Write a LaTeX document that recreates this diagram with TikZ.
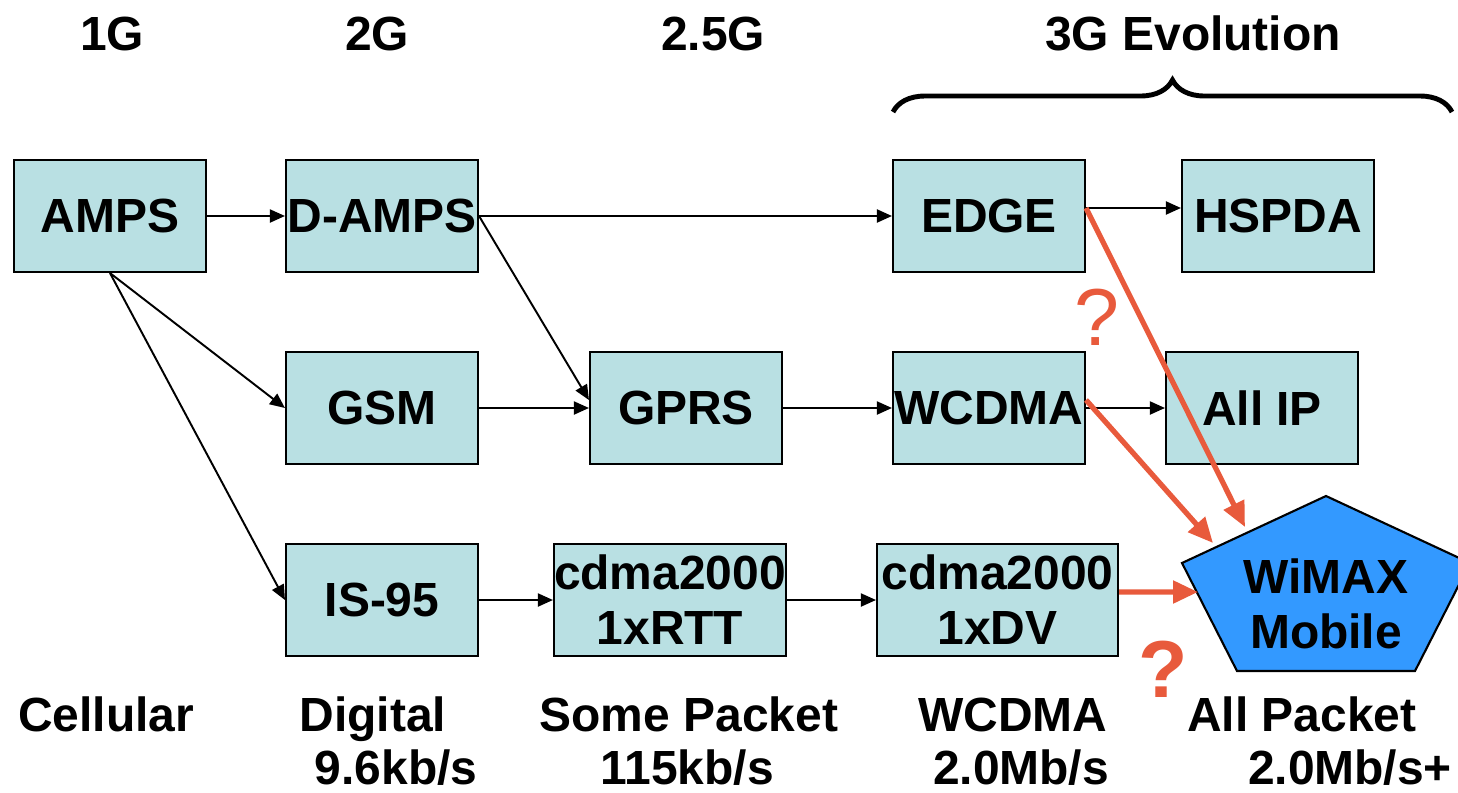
\documentclass[tikz,border=0pt]{standalone}
\usepackage{fontspec}
\setmainfont{Liberation Sans}
\usetikzlibrary{arrows.meta,decorations.pathreplacing}
\definecolor{boxcyan}{RGB}{185,224,227}
\definecolor{wimaxblue}{RGB}{51,153,255}
\definecolor{qorange}{RGB}{232,90,60}
\begin{document}
\begin{tikzpicture}[x=0.02cm,y=-0.02cm,
        big/.style={font=\fontsize{27.3}{31.3}\selectfont\bfseries},
        tech/.style={big,draw,line width=1.2pt,fill=boxcyan,minimum width=3.84cm,minimum height=2.24cm,inner sep=0pt,align=center},
        upgrade/.style={line width=1.1pt,-{Triangle[length=0.3cm,width=0.26cm]}},
        jump/.style={qorange,line width=3pt,-{Triangle[length=0.5cm,width=0.44cm]}},
        ask/.style={text=qorange,font=\fontsize{46}{50}\selectfont}]
        \path[use as bounding box] (0,0) rectangle (1458,792);

        % generations
        \node[big,anchor=base] (g1) at (112,50) {1G};
        \node[big,anchor=base] (g2) at (377,50) {2G};
        \node[big,anchor=base] (g25) at (713,50) {2.5G};
        \node[big,anchor=base] (g3) at (1193,50) {3G Evolution};
        \draw[line width=2.8pt,decorate,decoration={brace,amplitude=0.64cm}] (893,112) -- (1452,112);

        \node[tech] (amps) at (110,216) {AMPS};
        \node[tech] (damps) at (382,216) {D-AMPS};
        \node[tech] (edge) at (989,216) {EDGE};
        \node[tech] (hspda) at (1278,216) {HSPDA};

        \node[tech] (gsm) at (382,408) {GSM};
        \node[tech] (gprs) at (686,408) {GPRS};
        \node[tech] (wcdma) at (989,408) {WCDMA};
        \node[tech] (allip) at (1262,408) {All IP};

        \node[tech] (is95) at (382,600) {IS-95};
        \node[tech,minimum width=4.48cm] (rtt) at (670,600) {cdma2000\\1xRTT};
        \node[tech,minimum width=4.82cm] (dv) at (997.5,600) {cdma2000\\1xDV};

        \path[draw,upgrade] (amps) -- (damps);
        \path[draw,upgrade] (amps.south) -- (gsm.west);
        \path[draw,upgrade] (amps.south) -- (is95.west);
        \path[draw,upgrade] (damps) -- (edge);
        \path[draw,upgrade] (damps.east) -- ([yshift=0.16cm]gprs.west);
        \path[draw,upgrade] ([yshift=0.16cm]edge.east) -- ([yshift=0.16cm]hspda.west);
        \path[draw,upgrade] (gsm) -- (gprs);
        \path[draw,upgrade] (gprs) -- (wcdma);
        \path[draw,upgrade] (wcdma) -- (allip);
        \path[draw,upgrade] (is95) -- (rtt);
        \path[draw,upgrade] (rtt) -- (dv);

        % WiMAX pentagon
        \coordinate (pt) at (1326,496);
        \coordinate (pr) at (1470,563);
        \coordinate (pbr) at (1415,671);
        \coordinate (pbl) at (1237,671);
        \coordinate (pl) at (1182,563);
        \draw[line width=1.2pt,fill=wimaxblue] (pt) -- (pr) -- (pbr) -- (pbl) -- (pl) -- cycle;
        \node[big,align=center] (wimax) at (1326,604) {WiMAX\\Mobile};

        \coordinate (hitA) at (1245,527);
        \coordinate (hitB) at (1213,543);
        \coordinate (hitC) at (1198,592);
        \draw[jump] ([yshift=0.16cm]edge.east) -- (hitA);
        \draw[jump] ([yshift=0.16cm]wcdma.east) -- (hitB);
        \draw[jump] ([yshift=0.16cm]dv.east) -- (hitC);

        \node[ask] (q1) at (1097,317) {?};
        \node[ask,font=\fontsize{46}{50}\selectfont\bfseries] (q2) at (1163,669) {?};

        % kinds of service
        \node[big,anchor=base] (k1) at (106,731) {Cellular};
        \node[big,anchor=base] (k2) at (373,731) {Digital};
        \node[big,anchor=base] (r2) at (396,784) {9.6kb/s};
        \node[big,anchor=base] (k25) at (689,731) {Some Packet};
        \node[big,anchor=base] (r25) at (687,784) {115kb/s};
        \node[big,anchor=base] (k3) at (1013,731) {WCDMA};
        \node[big,anchor=base] (r3) at (1021,784) {2.0Mb/s};
        \node[big,anchor=base] (k4) at (1302,731) {All Packet};
        \node[big,anchor=base] (r4) at (1350,784) {2.0Mb/s+};
\end{tikzpicture}
\end{document}
